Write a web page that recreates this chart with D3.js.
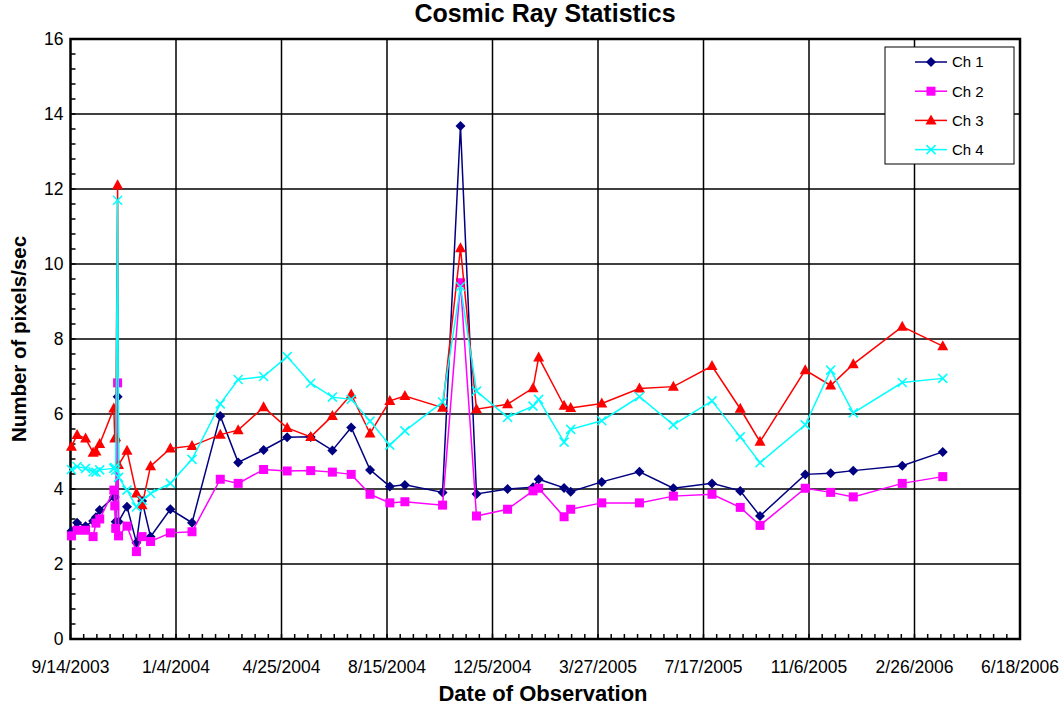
<!DOCTYPE html>
<html>
<head>
<meta charset="utf-8">
<script src="https://cdn.jsdelivr.net/npm/d3@7"></script>
<style>
  body { margin: 0; background: #fff; }
  svg { display: block; font-family: "Liberation Sans", Arial, sans-serif; }
</style>
</head>
<body>
<div id="chart"></div>
<script>
// Observation dates (shared by all four channels)
const obsDates = [
  "9/15/2003", "9/21/2003", "9/30/2003", "10/8/2003", "10/11/2003", "10/15/2003",
  "10/30/2003", "10/31/2003", "11/1/2003", "11/3/2003", "11/4/2003",
  "11/13/2003", "11/23/2003", "11/29/2003", "12/8/2003", "12/29/2003",
  "1/21/2004", "2/20/2004", "3/10/2004", "4/6/2004", "5/1/2004", "5/26/2004",
  "6/18/2004", "7/8/2004", "7/28/2004", "8/18/2004", "9/3/2004", "10/13/2004",
  "11/1/2004", "11/18/2004", "12/21/2004", "1/17/2005", "1/23/2005", "2/19/2005",
  "2/26/2005", "3/31/2005", "5/10/2005", "6/15/2005", "7/26/2005", "8/25/2005",
  "9/15/2005", "11/2/2005", "11/29/2005", "12/23/2005", "2/13/2006", "3/28/2006"
];

const ch1 = [
  2.88, 3.10, 3.01, 3.15, 3.25, 3.44,
  3.79, 3.79, 3.13, 6.46, 3.13,
  3.53, 2.57, 3.68, 2.73, 3.46,
  3.10, 5.95, 4.71, 5.04, 5.38, 5.39,
  5.03, 5.64, 4.51, 4.07, 4.11, 3.91,
  13.68, 3.87, 4.00, 4.05, 4.26, 4.03,
  3.93, 4.19, 4.46, 4.02, 4.15, 3.95,
  3.28, 4.39, 4.42, 4.49, 4.62, 4.99
];

const ch2 = [
  2.75, 2.90, 2.90, 2.73, 3.09, 3.20,
  3.97, 3.55, 2.95, 6.83, 2.75,
  3.01, 2.33, 2.73, 2.60, 2.83,
  2.86, 4.26, 4.15, 4.52, 4.48, 4.49,
  4.45, 4.39, 3.86, 3.63, 3.66, 3.57,
  9.50, 3.28, 3.46, 3.95, 4.02, 3.26,
  3.46, 3.63, 3.63, 3.81, 3.86, 3.51,
  3.03, 4.02, 3.91, 3.79, 4.15, 4.33
];

const ch3 = [
  5.13, 5.44, 5.35, 4.97, 5.00, 5.20,
  6.15, 5.35, 5.38, 12.10, 4.64,
  5.02, 3.88, 3.57, 4.61, 5.08,
  5.15, 5.45, 5.57, 6.18, 5.63, 5.39,
  5.95, 6.52, 5.48, 6.35, 6.48, 6.17,
  10.42, 6.13, 6.26, 6.69, 7.51, 6.22,
  6.16, 6.28, 6.68, 6.73, 7.28, 6.14,
  5.26, 7.17, 6.76, 7.33, 8.33, 7.81
];

const ch4 = [
  4.52, 4.60, 4.55, 4.46, 4.45, 4.51,
  4.55, 4.57, 4.50, 11.70, 4.31,
  3.97, 3.52, 3.70, 3.88, 4.15,
  4.79, 6.27, 6.92, 7.00, 7.53, 6.82,
  6.45, 6.39, 5.81, 5.17, 5.55, 6.32,
  9.40, 6.61, 5.91, 6.21, 6.39, 5.25,
  5.59, 5.82, 6.46, 5.71, 6.35, 5.39,
  4.70, 5.71, 7.17, 6.03, 6.84, 6.95
];

const seriesNames = ["Ch 1", "Ch 2", "Ch 3", "Ch 4"];
const seriesColors = ["#000080", "#FF00FF", "#FF0000", "#00FFFF"];
const seriesMarkers = ["diamond", "square", "triangle", "cross"];

const xTickLabels = [
  "9/14/2003", "1/4/2004", "4/25/2004", "8/15/2004", "12/5/2004",
  "3/27/2005", "7/17/2005", "11/6/2005", "2/26/2006", "6/18/2006"
];
const yTicks = [0, 2, 4, 6, 8, 10, 12, 14, 16];

const W = 1063, H = 708;
const plot = { left: 70.5, top: 39, right: 1020, bottom: 639 };

const parseDate = d3.timeParse("%m/%d/%Y");
const majorDates = xTickLabels.map(parseDate);
const dates = obsDates.map(parseDate);

const x = d3.scaleTime()
  .domain([majorDates[0], majorDates[majorDates.length - 1]])
  .range([plot.left, plot.right]);

const y = d3.scaleLinear()
  .domain([0, 16])
  .range([plot.bottom, plot.top]);

const svg = d3.select("#chart").append("svg")
  .attr("width", W)
  .attr("height", H);

svg.append("rect").attr("width", W).attr("height", H).attr("fill", "#fff");

// grid
const grid = svg.append("g").attr("stroke", "#000").attr("stroke-width", 1.5);
grid.selectAll("line.h")
  .data(yTicks.slice(1, -1))
  .enter().append("line")
  .attr("x1", plot.left).attr("x2", plot.right)
  .attr("y1", d => y(d)).attr("y2", d => y(d));
grid.selectAll("line.v")
  .data(majorDates.slice(1, -1))
  .enter().append("line")
  .attr("y1", plot.top).attr("y2", plot.bottom)
  .attr("x1", d => x(d)).attr("x2", d => x(d));

// minor ticks (inside)
const minorX = d3.timeDay.range(majorDates[0], majorDates[majorDates.length - 1], 14);
svg.append("g").attr("stroke", "#000").attr("stroke-width", 1.5)
  .selectAll("line")
  .data(minorX)
  .enter().append("line")
  .attr("x1", d => x(d)).attr("x2", d => x(d))
  .attr("y1", plot.bottom).attr("y2", plot.bottom - 5);

const minorY = d3.range(0, 16.001, 0.4);
svg.append("g").attr("stroke", "#000").attr("stroke-width", 1.5)
  .selectAll("line")
  .data(minorY)
  .enter().append("line")
  .attr("x1", plot.left).attr("x2", plot.left + 5)
  .attr("y1", d => y(d)).attr("y2", d => y(d));

// frame
svg.append("rect")
  .attr("x", plot.left).attr("y", plot.top)
  .attr("width", plot.right - plot.left)
  .attr("height", plot.bottom - plot.top)
  .attr("fill", "none")
  .attr("stroke", "#000")
  .attr("stroke-width", 2.5);

// axis labels
svg.append("g")
  .selectAll("text")
  .data(xTickLabels)
  .enter().append("text")
  .attr("x", (d, i) => x(majorDates[i]))
  .attr("y", 673)
  .attr("text-anchor", "middle")
  .attr("font-size", 17.5)
  .text(d => d);

svg.append("g")
  .selectAll("text")
  .data(yTicks)
  .enter().append("text")
  .attr("x", plot.left - 7)
  .attr("y", d => y(d))
  .attr("dy", "0.36em")
  .attr("text-anchor", "end")
  .attr("font-size", 17.5)
  .text(d => d);

svg.append("text")
  .attr("x", 545).attr("y", 22)
  .attr("text-anchor", "middle")
  .attr("font-size", 25)
  .attr("font-weight", "bold")
  .text("Cosmic Ray Statistics");

svg.append("text")
  .attr("x", 543).attr("y", 701)
  .attr("text-anchor", "middle")
  .attr("font-size", 22)
  .attr("font-weight", "bold")
  .text("Date of Observation");

svg.append("text")
  .attr("transform", "translate(26," + ((plot.top + plot.bottom) / 2) + ") rotate(-90)")
  .attr("text-anchor", "middle")
  .attr("font-size", 20.5)
  .attr("font-weight", "bold")
  .text("Number of pixels/sec");

// markers
function drawMarker(g, type, color) {
  if (type === "diamond") {
    g.append("path").attr("d", "M0,-5L5,0L0,5L-5,0Z").attr("fill", color);
  } else if (type === "square") {
    g.append("rect").attr("x", -4.5).attr("y", -4.5).attr("width", 9).attr("height", 9).attr("fill", color);
  } else if (type === "triangle") {
    g.append("path").attr("d", "M0,-6L5.5,4L-5.5,4Z").attr("fill", color);
  } else {
    g.append("path").attr("d", "M-4.5,-4.5L4.5,4.5M-4.5,4.5L4.5,-4.5")
      .attr("stroke", color).attr("stroke-width", 1.5).attr("fill", "none");
  }
}

const allSeries = [ch1, ch2, ch3, ch4];
const line = d3.line()
  .x(d => x(d[0]))
  .y(d => y(d[1]));

allSeries.forEach((vals, si) => {
  const pts = vals.map((v, i) => [dates[i], v]);
  const g = svg.append("g");
  g.append("path")
    .datum(pts)
    .attr("fill", "none")
    .attr("stroke", seriesColors[si])
    .attr("stroke-width", 1.5)
    .attr("d", line);
  g.selectAll("g.m")
    .data(pts)
    .enter().append("g")
    .attr("transform", d => "translate(" + x(d[0]) + "," + y(d[1]) + ")")
    .each(function () { drawMarker(d3.select(this), seriesMarkers[si], seriesColors[si]); });
});

// legend
const lg = svg.append("g").attr("transform", "translate(885,47)");
lg.append("rect")
  .attr("width", 129).attr("height", 117)
  .attr("fill", "#fff").attr("stroke", "#000").attr("stroke-width", 1);
seriesNames.forEach((name, i) => {
  const ly = 15 + i * 29.2;
  lg.append("line")
    .attr("x1", 30).attr("x2", 62)
    .attr("y1", ly).attr("y2", ly)
    .attr("stroke", seriesColors[i]).attr("stroke-width", 1.5);
  const m = lg.append("g").attr("transform", "translate(46," + ly + ")");
  drawMarker(m, seriesMarkers[i], seriesColors[i]);
  lg.append("text")
    .attr("x", 67).attr("y", ly)
    .attr("dy", "0.36em")
    .attr("font-size", 15)
    .text(name);
});
</script>
</body>
</html>
